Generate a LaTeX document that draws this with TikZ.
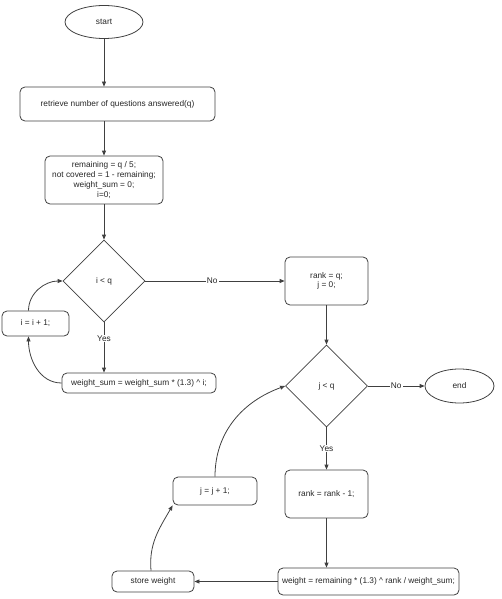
\documentclass[tikz,border=0pt]{standalone}
\usepackage{fontspec}
\setmainfont{Liberation Sans}
\usetikzlibrary{shapes.geometric,arrows.meta}
\begin{document}
\begin{tikzpicture}[x=1pt, y=1pt, line width=0.8pt, draw=black!75,
    every node/.style={font=\fontsize{8.3}{9.7}\selectfont, text=black!85},
    box/.style={draw=black!75, rounded corners=5pt, align=center, inner sep=2pt},
    term/.style={draw=black!75, ellipse, inner sep=0pt},
    decide/.style={draw=black!75, diamond, aspect=1, inner sep=0pt, minimum width=82pt, minimum height=82pt},
    flow/.style={-{Triangle[length=5pt, width=4pt]}},
    lbl/.style={fill=white, inner sep=1pt}]
  \useasboundingbox (0,0) rectangle (501,-599);

  % First loop: weight_sum
  \node[term, minimum width=78pt, minimum height=33pt] (start) at (104,-22) {start};
  \node[box, minimum width=195pt, minimum height=34pt] (retrieve) at (117.5,-104) {retrieve number of questions answered(q)};
  \node[box, minimum width=118pt, minimum height=48pt] (init) at (104,-180) {remaining = q / 5;\\not covered = 1 - remaining;\\weight\_sum = 0;\\i=0;};
  \node[decide] (iless) at (104,-281) {i < q};
  \node[box, minimum width=67pt, minimum height=25pt] (incri) at (35.5,-323.5) {i = i + 1;};
  \node[box, minimum width=154pt, minimum height=20pt] (wsum) at (139,-383) {weight\_sum = weight\_sum * (1.3) \^{} i;};

  % Second loop: weights
  \node[box, minimum width=83pt, minimum height=48pt] (rankinit) at (326.5,-281) {rank = q;\\j = 0;};
  \node[decide] (jless) at (326.5,-386) {j < q};
  \node[term, minimum width=69pt, minimum height=34pt] (finish) at (459.5,-386) {end};
  \node[box, minimum width=83pt, minimum height=48pt] (rankdec) at (326.5,-494) {rank = rank - 1;};
  \node[box, minimum width=181pt, minimum height=27pt] (weight) at (368.5,-581.5) {weight = remaining * (1.3) \^{} rank / weight\_sum;};
  \node[box, minimum width=82pt, minimum height=21pt] (store) at (153,-581.5) {store weight};
  \node[box, minimum width=84pt, minimum height=28pt] (incrj) at (215,-491) {j = j + 1;};

  \draw[flow] (start.south) -- (start.south |- retrieve.north);
  \draw[flow] (init.north |- retrieve.south) -- (init.north);
  \draw[flow] (init.south) -- (iless.north);
  \draw[flow] (iless.south) -- node[lbl, pos=0.32] {Yes} (iless.south |- wsum.north);
  \draw[flow] (wsum.west) to[out=180, in=-90] ([xshift=-7pt]incri.south);
  \draw[flow] ([xshift=-7pt]incri.north) to[out=90, in=180] (iless.west);
  \draw[flow] (iless.east) -- node[lbl, pos=0.48] {No} (rankinit.west);

  \draw[flow] (rankinit.south) -- (jless.north);
  \draw[flow] (jless.east) -- node[lbl] {No} (finish.west);
  \draw[flow] (jless.south) -- node[lbl] {Yes} (rankdec.north);
  \draw[flow] (rankdec.south) -- (rankdec.south |- weight.north);
  \draw[flow] (weight.west) -- (store.east);
  \draw[flow] ([xshift=-2pt]store.north) to[out=95, in=240] (incrj.south west);
  \draw[flow] (incrj.north) to[out=90, in=200] (jless.west);
\end{tikzpicture}
\end{document}
